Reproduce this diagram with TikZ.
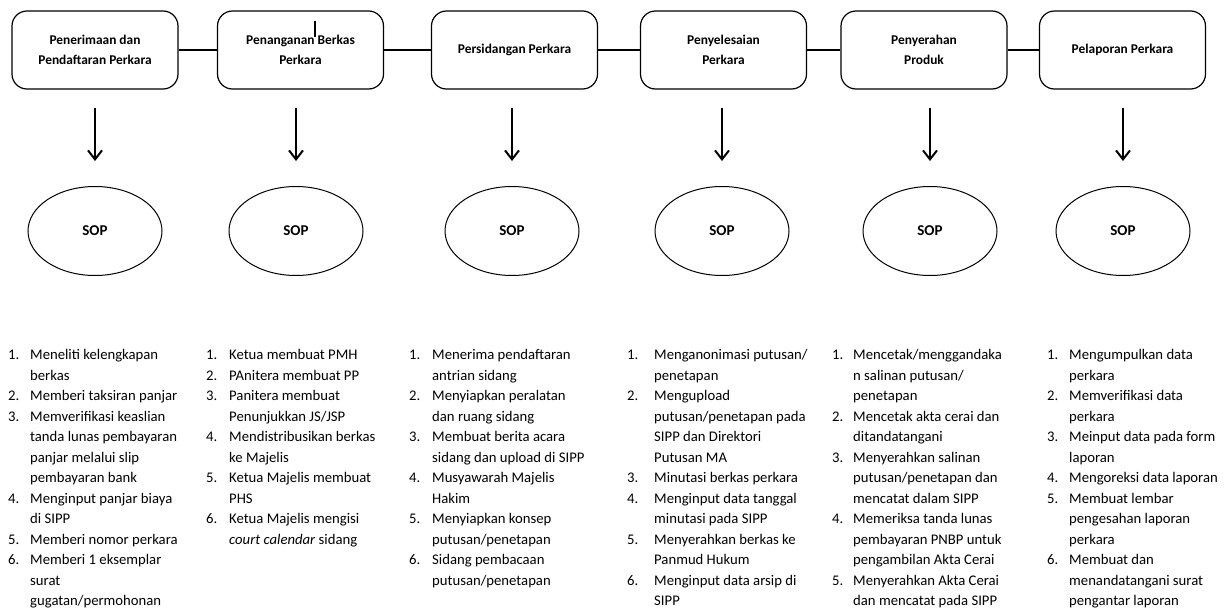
\documentclass[tikz,border=0pt]{standalone}
\usepackage{fontspec}
\setmainfont{Carlito}
\usetikzlibrary{arrows.meta,shapes.geometric}
\begin{document}
\begin{tikzpicture}[x=1pt,y=-1pt,
  stage/.style={draw, line width=1.2pt, rounded corners=15pt, minimum width=166pt, minimum height=78pt, align=center, inner sep=2pt, font=\fontsize{13.4}{20}\selectfont\bfseries},
  sop/.style={draw, ellipse, line width=1pt, minimum width=134pt, minimum height=89pt, inner sep=0pt, font=\fontsize{15}{18}\selectfont\bfseries},
  link/.style={line width=2pt},
  arr/.style={line width=2pt, -{Straight Barb[length=9pt,width=14pt,line width=2pt]}, shorten <=18pt, shorten >=25pt},
  steps/.style={inner sep=0pt, anchor=base west, font=\fontsize{14.7}{20.5}\selectfont}
]
\useasboundingbox (0,0) rectangle (1232,608);
% stages
\node[stage] (b1) at (95,50) {Penerimaan dan\\Pendaftaran Perkara};
\node[stage] (b2) at (300.5,50) {Penanganan Berkas\\Perkara};
\node[stage] (b3) at (514.5,50) {Persidangan Perkara};
\node[stage] (b4) at (723.5,50) {Penyelesaian\\Perkara};
\node[stage] (b5) at (924,50) {Penyerahan\\Produk};
\node[stage] (b6) at (1122.5,50) {Pelaporan Perkara};
\draw[link] (b1.east) -- (b2.west);
\draw[link] (b2.east) -- (b3.west);
\draw[link] (b3.east) -- (b4.west);
\draw[link] (b4.east) -- (b5.west);
\draw[link] (b5.east) -- (b6.west);
\coordinate (m1) at (315,21);
\coordinate (m2) at (315,37);
\draw[line width=2pt] (m1) -- (m2);
% SOP ellipses
\node[sop] (e1) at (95,231) {SOP};
\node[sop] (e2) at (296,231) {SOP};
\node[sop] (e3) at (512,231) {SOP};
\node[sop] (e4) at (722,231) {SOP};
\node[sop] (e5) at (930,231) {SOP};
\node[sop] (e6) at (1123,231) {SOP};
\foreach \i in {1,...,6}{
  \draw[arr] (e\i.north |- b\i.south) -- (e\i.north);
}
% lists
\node[steps] (l1) at (8,359.5) {\begin{tabular}[t]{@{}p{22pt}@{}l@{}}
1. & Meneliti kelengkapan\\
   & berkas\\
2. & Memberi taksiran panjar\\
3. & Memverifikasi keaslian\\
   & tanda lunas pembayaran\\
   & panjar melalui slip\\
   & pembayaran bank\\
4. & Menginput panjar biaya\\
   & di SIPP\\
5. & Memberi nomor perkara\\
6. & Memberi 1 eksemplar\\
   & surat\\
   & gugatan/permohonan
\end{tabular}};
\node[steps] (l2) at (206,359.5) {\begin{tabular}[t]{@{}p{23pt}@{}l@{}}
1. & Ketua membuat PMH\\
2. & PAnitera membuat PP\\
3. & Panitera membuat\\
   & Penunjukkan JS/JSP\\
4. & Mendistribusikan berkas\\
   & ke Majelis\\
5. & Ketua Majelis membuat\\
   & PHS\\
6. & Ketua Majelis mengisi\\
   & \textit{court calendar} sidang
\end{tabular}};
\node[steps] (l3) at (409,359.5) {\begin{tabular}[t]{@{}p{23pt}@{}l@{}}
1. & Menerima pendaftaran\\
   & antrian sidang\\
2. & Menyiapkan peralatan\\
   & dan ruang sidang\\
3. & Membuat berita acara\\
   & sidang dan upload di SIPP\\
4. & Musyawarah Majelis\\
   & Hakim\\
5. & Menyiapkan konsep\\
   & putusan/penetapan\\
6. & Sidang pembacaan\\
   & putusan/penetapan
\end{tabular}};
\node[steps] (l4) at (627,359.5) {\begin{tabular}[t]{@{}p{27pt}@{}l@{}}
1. & Menganonimasi putusan/\\
   & penetapan\\
2. & Mengupload\\
   & putusan/penetapan pada\\
   & SIPP dan Direktori\\
   & Putusan MA\\
3. & Minutasi berkas perkara\\
4. & Menginput data tanggal\\
   & minutasi pada SIPP\\
5. & Menyerahkan berkas ke\\
   & Panmud Hukum\\
6. & Menginput data arsip di\\
   & SIPP
\end{tabular}};
\node[steps] (l5) at (832,359.5) {\begin{tabular}[t]{@{}p{21pt}@{}l@{}}
1. & Mencetak/menggandaka\\
   & n salinan putusan/\\
   & penetapan\\
2. & Mencetak akta cerai dan\\
   & ditandatangani\\
3. & Menyerahkan salinan\\
   & putusan/penetapan dan\\
   & mencatat dalam SIPP\\
4. & Memeriksa tanda lunas\\
   & pembayaran PNBP untuk\\
   & pengambilan Akta Cerai\\
5. & Menyerahkan Akta Cerai\\
   & dan mencatat pada SIPP
\end{tabular}};
\node[steps] (l6) at (1047,359.5) {\begin{tabular}[t]{@{}p{22pt}@{}l@{}}
1. & Mengumpulkan data\\
   & perkara\\
2. & Memverifikasi data\\
   & perkara\\
3. & Meinput data pada form\\
   & laporan\\
4. & Mengoreksi data laporan\\
5. & Membuat lembar\\
   & pengesahan laporan\\
   & perkara\\
6. & Membuat dan\\
   & menandatangani surat\\
   & pengantar laporan
\end{tabular}};
\end{tikzpicture}
\end{document}
